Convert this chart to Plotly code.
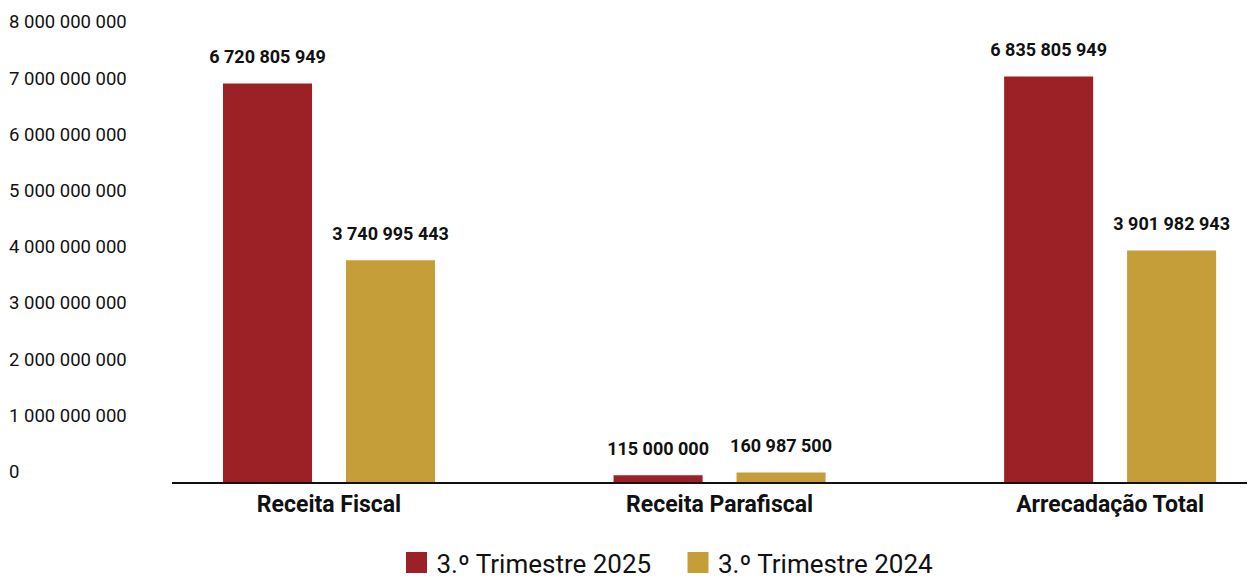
import plotly.graph_objects as go

categories = ["Receita Fiscal", "Receita Parafiscal", "Arrecadação Total"]
series_names = ["3.º Trimestre 2025", "3.º Trimestre 2024"]
values_2025 = [6720805949, 115000000, 6835805949]
values_2024 = [3740995443, 160987500, 3901982943]
tick_values = [0, 1e9, 2e9, 3e9, 4e9, 5e9, 6e9, 7e9, 8e9]

RED = "#9B2126"
GOLD = "#C59E39"
FONT = "Roboto"

fig = go.Figure()
for name, vals, col, off in [(series_names[0], values_2025, RED, -0.2714),
                             (series_names[1], values_2024, GOLD, 0.0435)]:
    fig.add_trace(go.Bar(
        x=categories, y=vals, name=name, marker=dict(color=col, line=dict(width=0)),
        width=0.228, offset=off,
        texttemplate="<span style='font-size:18px'>%{y:,.0f}</span><br>&nbsp;",
        textposition="outside", constraintext="none",
        cliponaxis=False, showlegend=False,
        textfont=dict(family=FONT, size=11, color="#111111", weight="bold"),
        hoverinfo="skip",
    ))
# legend swatches
for name, col in [(series_names[0], RED), (series_names[1], GOLD)]:
    fig.add_trace(go.Scatter(
        x=[None], y=[None], name=name, mode="markers", yaxis="y2",
        marker=dict(symbol="square", size=16, color=col, line=dict(color=col, width=5)),
    ))

# page body adds an 8px offset; the figure runs slightly past the window bottom
W, H = 1247, 600
ml, mr, mt, mb = 0, 0, 0, 126
plot_w = W - ml - mr
plot_h = H - mt - mb
fig.update_layout(
    width=W, height=H,
    margin=dict(l=ml, r=mr, t=mt, b=mb, pad=0),
    paper_bgcolor="white", plot_bgcolor="white",
    separators=". ",
    font=dict(family=FONT, color="#111111"),
    barmode="overlay",
    xaxis=dict(
        domain=[164 / plot_w, 1], range=[-0.402, 2.371],
        showline=True, linecolor="#111111", linewidth=2, ticks="",
        showgrid=False, zeroline=False, automargin=False,
        tickfont=dict(family=FONT, size=23, color="#111111", weight="bold"),
        ticklabelstandoff=0,
    ),
    yaxis=dict(range=[0, 7.993e9], visible=False, showgrid=False, zeroline=False,
               automargin=False),
    yaxis2=dict(
        overlaying="y", side="right", anchor="free", position=0,
        range=[-0.1869e9, 8.249e9], tickvals=tick_values, tickformat=",.0f",
        showgrid=False, zeroline=False, showline=False, ticks="", automargin=False,
        tickfont=dict(family=FONT, size=18.5, color="#111111"),
    ),
    legend=dict(
        orientation="h", x=388.5 / plot_w, xanchor="left",
        y=-0.2195, yanchor="bottom",
        font=dict(family=FONT, size=26, color="#111111"), entrywidth=236.5,
        itemclick=False,
    ),
)

fig.write_html("out.html")
